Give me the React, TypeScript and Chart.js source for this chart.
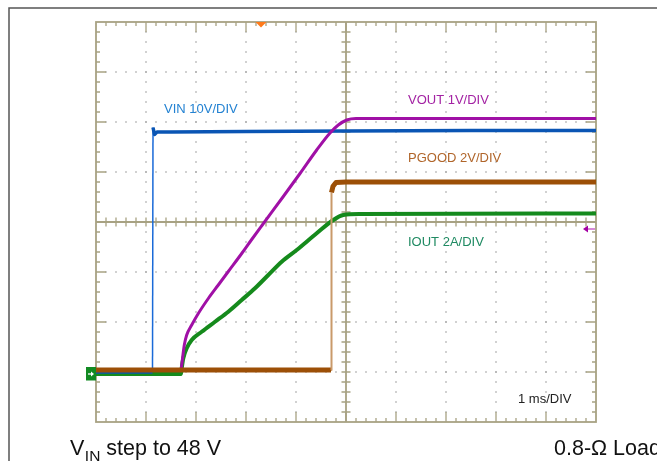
import React, { useEffect, useRef } from "react";
import { Chart, registerables } from "chart.js";

Chart.register(...registerables);

// Time axis: 1 ms / division, 10 divisions
const TIME_MIN_MS = 0;
const TIME_MAX_MS = 10;

// VIN (V), 10 V/div
const VIN_T = [0, 1.13, 1.14, 1.17, 1.22, 1.5, 3.0, 5.0, 7.5, 10];
const VIN_V = [0, 0, 48.9, 47.5, 48.0, 48.0, 48.1, 48.2, 48.3, 48.3];

// VOUT (V), 1 V/div
const VOUT_T = [0, 1.7, 1.714, 1.766, 1.814, 1.914, 2.046, 2.246, 2.446, 2.646, 2.914, 3.114, 3.326, 3.746, 4.08, 4.414, 4.68, 4.846, 5.014, 5.2, 10];
const VOUT_V = [0, 0, 0.1, 0.5, 0.7, 0.9, 1.13, 1.43, 1.7, 1.97, 2.33, 2.61, 2.9, 3.47, 3.93, 4.4, 4.74, 4.9, 5.0, 5.03, 5.03];

// PGOOD (V), 2 V/div
const PGOOD_T = [0, 4.7, 4.71, 4.74, 4.8, 5.0, 10];
const PGOOD_V = [0, 0, 7.1, 7.35, 7.5, 7.52, 7.52];

// IOUT (A), 2 A/div
const IOUT_T = [0, 1.7, 1.714, 1.746, 1.814, 1.914, 2.114, 2.38, 2.646, 2.914, 3.18, 3.446, 3.714, 4.014, 4.414, 4.746, 4.946, 5.28, 10];
const IOUT_A = [0, 0, 0.23, 0.63, 1.03, 1.36, 1.69, 2.09, 2.49, 2.96, 3.43, 3.96, 4.49, 4.96, 5.63, 6.16, 6.36, 6.4, 6.42];

// Channel labels
const LABEL_VIN = "VIN 10V/DIV";
const LABEL_VOUT = "VOUT 1V/DIV";
const LABEL_PGOOD = "PGOOD 2V/DIV";
const LABEL_IOUT = "IOUT 2A/DIV";
const LABEL_TIME = "1 ms/DIV";

const toPoints = (t: number[], v: number[]) => t.map((x, i) => ({ x, y: v[i] }));

const scopePlugin = {
  id: "scope",
  beforeDatasetsDraw(chart: any) {
    const { ctx, chartArea } = chart;
    const { left, right, top, bottom } = chartArea;
    const w = right - left;
    const h = bottom - top;
    const divX = w / 10;
    const divY = h / 8;
    const minor = divX / 5;
    ctx.save();

    // outer frame
    ctx.strokeStyle = "#555555";
    ctx.lineWidth = 1.5;
    ctx.beginPath();
    ctx.moveTo(9, 461);
    ctx.lineTo(9, 8);
    ctx.lineTo(657, 8);
    ctx.stroke();

    // dotted grid
    ctx.fillStyle = "#a2a2a2";
    for (let k = 1; k < 10; k++) {
      if (k === 5) continue;
      const x = left + k * divX;
      for (let j = 1; j < 40; j++) {
        const y = top + j * minor;
        ctx.fillRect(x - 0.7, y - 0.7, 1.4, 1.4);
      }
    }
    for (let k = 1; k < 8; k++) {
      if (k === 4) continue;
      const y = top + k * divY;
      for (let j = 1; j < 50; j++) {
        const x = left + j * minor;
        ctx.fillRect(x - 0.7, y - 0.7, 1.4, 1.4);
      }
    }

    const c = "#a8a283";
    ctx.strokeStyle = c;
    // border
    ctx.lineWidth = 1.8;
    ctx.strokeRect(left, top, w, h);
    // center cross
    const cx = left + 5 * divX;
    const cy = top + 4 * divY;
    ctx.beginPath();
    ctx.moveTo(cx, top);
    ctx.lineTo(cx, bottom);
    ctx.moveTo(left, cy);
    ctx.lineTo(right, cy);
    ctx.stroke();

    // ticks
    ctx.lineWidth = 1.3;
    ctx.beginPath();
    for (let j = 1; j < 50; j++) {
      const x = left + j * minor;
      const len = j % 5 === 0 ? 10 : 4;
      ctx.moveTo(x, top);
      ctx.lineTo(x, top + len);
      ctx.moveTo(x, bottom);
      ctx.lineTo(x, bottom - len);
      ctx.moveTo(x, cy - 4.5);
      ctx.lineTo(x, cy + 4.5);
    }
    for (let j = 1; j < 40; j++) {
      const y = top + j * minor;
      const len = j % 5 === 0 ? 10 : 4;
      ctx.moveTo(left, y);
      ctx.lineTo(left + len, y);
      ctx.moveTo(right, y);
      ctx.lineTo(right - len, y);
      ctx.moveTo(cx - 4.5, y);
      ctx.lineTo(cx + 4.5, y);
    }
    ctx.stroke();
    ctx.restore();
  },
  afterDatasetsDraw(chart: any) {
    const { ctx, chartArea } = chart;
    const { left, right, top } = chartArea;
    ctx.save();

    // trigger marker (top)
    const xs = chart.scales.x;
    const tx = xs.getPixelForValue(3.3);
    ctx.fillStyle = "#ff7a1a";
    ctx.beginPath();
    ctx.moveTo(tx - 5.5, top);
    ctx.lineTo(tx + 5.5, top);
    ctx.lineTo(tx, top + 5.5);
    ctx.closePath();
    ctx.fill();

    // ground marker (left, IOUT channel)
    const gy = chart.scales.yIout.getPixelForValue(0);
    ctx.fillStyle = "#128a22";
    ctx.fillRect(left - 10, gy - 7, 10, 13.5);
    ctx.strokeStyle = "#ffffff";
    ctx.fillStyle = "#ffffff";
    ctx.lineWidth = 1.3;
    ctx.beginPath();
    ctx.moveTo(left - 8, gy);
    ctx.lineTo(left - 3, gy);
    ctx.stroke();
    ctx.beginPath();
    ctx.moveTo(left - 2, gy);
    ctx.lineTo(left - 5, gy - 2.5);
    ctx.lineTo(left - 5, gy + 2.5);
    ctx.closePath();
    ctx.fill();

    // right marker (purple arrow)
    const ry = 229;
    ctx.strokeStyle = "#d68ad6";
    ctx.lineWidth = 2;
    ctx.beginPath();
    ctx.moveTo(right - 9, ry);
    ctx.lineTo(right - 1, ry);
    ctx.stroke();
    ctx.fillStyle = "#a400a4";
    ctx.beginPath();
    ctx.moveTo(right - 13, ry);
    ctx.lineTo(right - 8, ry - 3.5);
    ctx.lineTo(right - 8, ry + 3.5);
    ctx.closePath();
    ctx.fill();

    // channel labels
    ctx.font = '13px "Liberation Sans", Arial, sans-serif';
    ctx.textBaseline = "alphabetic";
    ctx.textAlign = "left";
    ctx.fillStyle = "#2382d2";
    ctx.fillText(LABEL_VIN, 164, 113);
    ctx.fillStyle = "#a322a3";
    ctx.fillText(LABEL_VOUT, 408, 104);
    ctx.fillStyle = "#b0652a";
    ctx.fillText(LABEL_PGOOD, 408, 162);
    ctx.fillStyle = "#1f8a62";
    ctx.fillText(LABEL_IOUT, 408, 246);
    ctx.fillStyle = "#222222";
    ctx.fillText(LABEL_TIME, 518, 403);

    // captions
    ctx.fillStyle = "#111111";
    ctx.font = '21.5px "Liberation Sans", Arial, sans-serif';
    ctx.fillText("V", 70, 455);
    const vw = ctx.measureText("V").width;
    ctx.font = '15.5px "Liberation Sans", Arial, sans-serif';
    ctx.fillText("IN", 70 + vw + 0.5, 461);
    const iw = ctx.measureText("IN").width;
    ctx.font = '21.5px "Liberation Sans", Arial, sans-serif';
    ctx.fillText(" step to 48 V", 70 + vw + 0.5 + iw, 455);
    ctx.fillText("0.8-\u03A9 Load", 554, 455);
    ctx.restore();
  },
};

export default function App() {
  const ref = useRef<HTMLCanvasElement | null>(null);

  useEffect(() => {
    if (!ref.current) return;
    const thin = (thinColor: string, thick: number, thinW: number) => ({
      borderWidth: (c: any) => (Math.abs(c.p1.parsed.x - c.p0.parsed.x) < 0.015 ? thinW : thick),
      borderColor: (c: any) => (Math.abs(c.p1.parsed.x - c.p0.parsed.x) < 0.015 ? thinColor : undefined),
    });
    const chart = new Chart(ref.current, {
      type: "line",
      data: {
        datasets: [
          {
            label: "PGOOD",
            data: toPoints(PGOOD_T, PGOOD_V),
            yAxisID: "yPgood",
            borderColor: "#9c4f06",
            borderWidth: 5,
            borderJoinStyle: "round",
            pointRadius: 0,
            order: 0,
            segment: thin("#c99a6a", 5, 2),
          },
          {
            label: "VOUT",
            data: toPoints(VOUT_T, VOUT_V),
            yAxisID: "yVout",
            borderColor: "#a010a6",
            borderWidth: 3,
            borderJoinStyle: "round",
            cubicInterpolationMode: "monotone",
            pointRadius: 0,
            order: 1,
          },
          {
            label: "VIN",
            data: toPoints(VIN_T, VIN_V),
            yAxisID: "yVin",
            borderColor: "#0a55b4",
            borderWidth: 3.5,
            borderJoinStyle: "round",
            pointRadius: 0,
            order: 2,
            segment: thin("#1a6ad8", 3.5, 1.5),
          },
          {
            label: "IOUT",
            data: toPoints(IOUT_T, IOUT_A),
            yAxisID: "yIout",
            borderColor: "#158a1c",
            borderWidth: 4,
            borderJoinStyle: "round",
            cubicInterpolationMode: "monotone",
            pointRadius: 0,
            order: 3,
          },
        ] as any,
      },
      options: {
        animation: false,
        responsive: false,
        events: [],
        layout: { padding: { left: 96, top: 22, right: 61, bottom: 39 } },
        plugins: { legend: { display: false }, tooltip: { enabled: false } },
        scales: {
          x: { type: "linear", min: TIME_MIN_MS, max: TIME_MAX_MS, display: false },
          y: { type: "linear", min: -4, max: 4, display: false },
          yVin: { type: "linear", min: -10, max: 70, display: false },
          yVout: { type: "linear", min: -1.04, max: 6.96, display: false },
          yPgood: { type: "linear", min: -2.08, max: 13.92, display: false },
          yIout: { type: "linear", min: -1.92, max: 14.08, display: false },
        },
      } as any,
      plugins: [scopePlugin],
    });
    return () => chart.destroy();
  }, []);

  return (
    <div style={{ position: "fixed", left: 0, top: 0, width: 657, height: 461, background: "#ffffff" }}>
      <canvas ref={ref} width={657} height={461} style={{ display: "block", width: 657, height: 461 }} />
    </div>
  );
}
